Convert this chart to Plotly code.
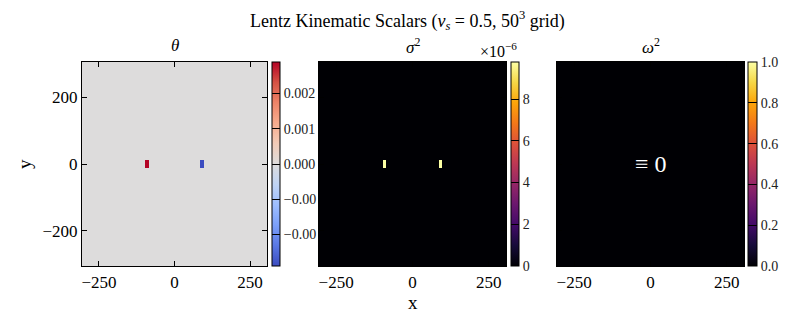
import numpy as np
import plotly.graph_objects as go

# ---------------- data ----------------
grid_n = 50
grid_extent = 300.0
grid_coords = np.linspace(-grid_extent, grid_extent, grid_n)

# nonzero cells (x, y, value)
theta_cells_x = [-91.8, -91.8, 91.8, 91.8]
theta_cells_y = [-6.1, 6.1, -6.1, 6.1]
theta_cells_v = [0.00289, 0.00289, -0.00289, -0.00289]

sigma2_cells_x = [-91.8, -91.8, 91.8, 91.8]
sigma2_cells_y = [-6.1, 6.1, -6.1, 6.1]
sigma2_cells_v = [9.78e-6, 9.78e-6, 9.78e-6, 9.78e-6]

theta_range = [-0.00289, 0.00289]
sigma2_range = [0.0, 9.78e-6]
omega2_range = [0.0, 1.0]

theta_tickvals = [-0.002, -0.001, 0.0, 0.001, 0.002]
theta_ticktext = ["\u22120.00", "\u22120.00", "0.000", "0.001", "0.002"]
sigma2_tickvals = [0, 2e-6, 4e-6, 6e-6, 8e-6]
sigma2_ticktext = ["0", "2", "4", "6", "8"]
omega2_tickvals = [0, 0.2, 0.4, 0.6, 0.8, 1.0]
omega2_ticktext = ["0.0", "0.2", "0.4", "0.6", "0.8", "1.0"]

x_ticks = [-250, 0, 250]
y_ticks = [-200, 0, 200]


def build_field(xs, ys, vs):
    z = np.zeros((grid_n, grid_n))
    for x, y, v in zip(xs, ys, vs):
        i = int(np.argmin(np.abs(grid_coords - y)))
        j = int(np.argmin(np.abs(grid_coords - x)))
        z[i, j] = v
    return z


theta_z = build_field(theta_cells_x, theta_cells_y, theta_cells_v)
sigma2_z = build_field(sigma2_cells_x, sigma2_cells_y, sigma2_cells_v)
omega2_z = np.zeros((grid_n, grid_n))

# ---------------- styling ----------------
W, H = 793, 324
FONT = "'Liberation Serif', 'DejaVu Serif', serif"

coolwarm = [
    [0.0, "#3b4cc0"], [0.1, "#5a78e4"], [0.2, "#7b9ff9"], [0.3, "#9ebeff"],
    [0.4, "#c0d4f5"], [0.5, "#dddcdc"], [0.6, "#f2cbb7"], [0.7, "#f7ac8e"],
    [0.8, "#ee8468"], [0.9, "#d65244"], [1.0, "#b40426"],
]
inferno = [
    [0.0, "#000004"], [0.1, "#160b39"], [0.2, "#420a68"], [0.3, "#6a176e"],
    [0.4, "#932667"], [0.5, "#bc3754"], [0.6, "#dd513a"], [0.7, "#f37819"],
    [0.8, "#fca50a"], [0.9, "#f6d746"], [1.0, "#fcffa4"],
]


def px_x(p):
    return p / W


def px_y(p):
    return 1 - p / H


panel_x = [(82, 267), (319, 506), (557, 744)]
panel_top, panel_bot = 62, 266
cb_x = [(272, 8), (511, 8), (748, 9)]

dom_y = [px_y(panel_bot), px_y(panel_top)]
cb_len = (panel_bot - panel_top) / H
cb_y = (dom_y[0] + dom_y[1]) / 2


def cbar(i, tickvals, ticktext):
    x0, th = cb_x[i]
    return dict(
        x=px_x(x0), xanchor="left", xpad=0, y=cb_y, yanchor="middle",
        len=cb_len, lenmode="fraction", thickness=th, thicknessmode="pixels",
        outlinecolor="black", outlinewidth=1,
        ticks="inside", ticklen=th, tickcolor="black", tickwidth=1,
        tickvals=tickvals, ticktext=ticktext,
        tickfont=dict(family=FONT, size=14, color="#222"),
        ypad=0,
    )


fig = go.Figure()
fields = [
    (theta_z, coolwarm, theta_range, theta_tickvals, theta_ticktext),
    (sigma2_z, inferno, sigma2_range, sigma2_tickvals, sigma2_ticktext),
    (omega2_z, inferno, omega2_range, omega2_tickvals, omega2_ticktext),
]
for k, (z, cs, rng, tv, tt) in enumerate(fields):
    sfx = "" if k == 0 else str(k + 1)
    fig.add_trace(go.Heatmap(
        x=grid_coords, y=grid_coords, z=z, colorscale=cs,
        zmin=rng[0], zmax=rng[1], colorbar=cbar(k, tv, tt),
        xaxis="x" + sfx, yaxis="y" + sfx, hoverinfo="skip",
    ))

half = grid_extent + (grid_extent * 2 / (grid_n - 1)) / 2
layout = dict(
    width=W, height=H, margin=dict(l=0, r=0, t=0, b=0, autoexpand=False),
    paper_bgcolor="white", plot_bgcolor="white", showlegend=False,
    font=dict(family=FONT, color="black"),
)
for k in range(3):
    sfx = "" if k == 0 else str(k + 1)
    ax_common = dict(
        range=[-half, half], showline=True, linecolor="black", linewidth=1.2,
        mirror="ticks", ticks="inside", ticklen=5, tickcolor="black",
        showgrid=False, zeroline=False, tickfont=dict(family=FONT, size=17),
    )
    layout["xaxis" + sfx] = dict(
        ax_common, domain=[px_x(panel_x[k][0]), px_x(panel_x[k][1])],
        anchor="y" + sfx, tickvals=x_ticks,
        ticktext=[("\u2212" + str(-v)) if v < 0 else str(v) for v in x_ticks],
    )
    layout["yaxis" + sfx] = dict(
        ax_common, domain=dom_y, anchor="x" + sfx, tickvals=y_ticks,
        ticktext=[("\u2212" + str(-v)) if v < 0 else str(v) for v in y_ticks],
        showticklabels=(k == 0),
    )

annotations = [
    dict(text="Lentz Kinematic Scalars (<i>v<sub>s</sub></i> = 0.5, 50<sup>3</sup> grid)",
         x=px_x(407), y=px_y(21), xref="paper", yref="paper", showarrow=False,
         xanchor="center", yanchor="middle", font=dict(family=FONT, size=18)),
    dict(text="x", x=px_x(412.5), y=px_y(302), xref="paper", yref="paper",
         showarrow=False, xanchor="center", yanchor="middle",
         font=dict(family=FONT, size=19)),
    dict(text="y", x=px_x(24), y=px_y(164), xref="paper", yref="paper",
         showarrow=False, xanchor="center", yanchor="middle", textangle=-90,
         font=dict(family=FONT, size=19)),
    dict(text="\u00d710<sup>\u22126</sup>", x=px_x(519), y=px_y(50), xref="paper",
         yref="paper", showarrow=False, xanchor="right", yanchor="middle",
         font=dict(family=FONT, size=16)),
    dict(text="\u2261 0", x=0, y=0, xref="x3", yref="y3", showarrow=False,
         font=dict(family=FONT, size=24, color="white")),
]
sub_titles = ["<i>\u03b8</i>", "<i>\u03c3</i><sup>2</sup>", "<i>\u03c9</i><sup>2</sup>"]
for k, t in enumerate(sub_titles):
    annotations.append(dict(
        text=t, x=px_x((panel_x[k][0] + panel_x[k][1]) / 2), y=px_y(46),
        xref="paper", yref="paper", showarrow=False, xanchor="center",
        yanchor="middle", font=dict(family=FONT, size=17)))
layout["annotations"] = annotations

fig.update_layout(**layout)
fig.write_html(
    "out.html",
    config={"displayModeBar": False},
    post_script="document.body.style.margin='0';document.body.style.overflow='hidden';",
)
